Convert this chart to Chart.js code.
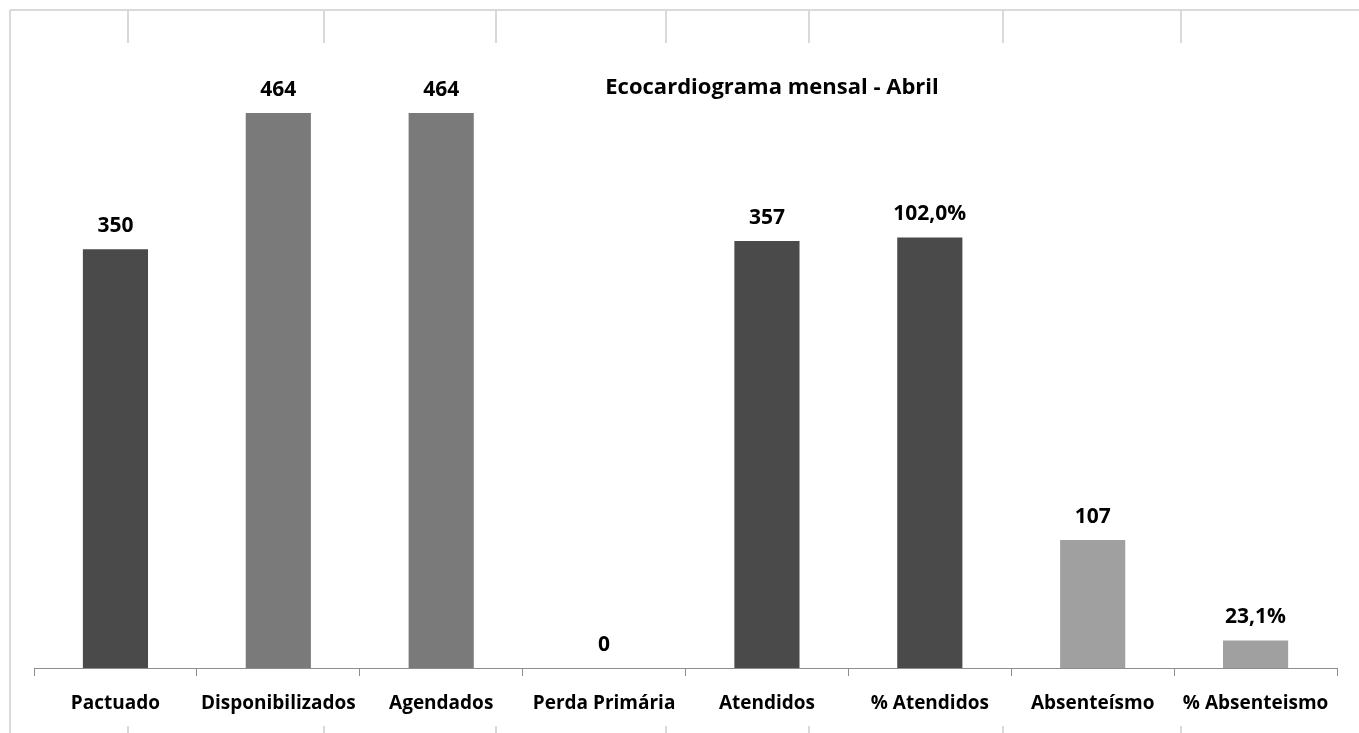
<!DOCTYPE html>
<html>
<head>
<meta charset="utf-8">
<script src="https://cdn.jsdelivr.net/npm/chart.js@4.4.0/dist/chart.umd.min.js"></script>
<style>
    html, body { margin: 0; padding: 0; background: #fff; }
    #wrap { position: relative; width: 1359px; height: 733px; }
</style>
</head>
<body>
<div id="wrap"><canvas id="chart"></canvas></div>
<script>
const categories = ['Pactuado', 'Disponibilizados', 'Agendados', 'Perda Primária', 'Atendidos', '% Atendidos', 'Absenteísmo', '% Absenteismo'];
const barValues = [350, 464, 464, 0, 357, 360, 107, 23];
const valueLabels = ['350', '464', '464', '0', '357', '102,0%', '107', '23,1%'];
const chartTitle = 'Ecocardiograma mensal - Abril';

const DARK = '#4a4a4a';
const MID = '#7a7a7a';
const LIGHT = '#a0a0a0';
const barColors = [DARK, MID, MID, DARK, DARK, DARK, LIGHT, LIGHT];

const FONT = '"Open Sans", sans-serif';

// light sheet borders behind the chart frame
const sheetLines = {
    id: 'sheetLines',
    beforeDraw(chart) {
        const ctx = chart.ctx;
        ctx.save();
        ctx.strokeStyle = '#d9d9d9';
        ctx.lineWidth = 2;
        ctx.beginPath();
        ctx.moveTo(10, 10);
        ctx.lineTo(1359, 10);
        ctx.moveTo(10, 10);
        ctx.lineTo(10, 733);
        [128, 324, 496, 666, 809, 1003, 1181].forEach(x => {
            ctx.moveTo(x, 10);
            ctx.lineTo(x, 43);
            ctx.moveTo(x, 726);
            ctx.lineTo(x, 733);
        });
        ctx.stroke();
        ctx.restore();
    }
};

const barLabels = {
    id: 'barLabels',
    afterDatasetsDraw(chart) {
        const ctx = chart.ctx;
        const meta = chart.getDatasetMeta(0);
        ctx.save();
        ctx.fillStyle = '#000';
        ctx.font = 'bold 21px ' + FONT;
        ctx.textAlign = 'center';
        ctx.textBaseline = 'middle';
        meta.data.forEach((bar, i) => {
            ctx.fillText(valueLabels[i], bar.x, bar.y - 23);
        });
        ctx.font = 'bold 22px ' + FONT;
        ctx.fillText(chartTitle, 772, 88);
        ctx.restore();
    }
};

new Chart(document.getElementById('chart'), {
    type: 'bar',
    data: {
        labels: categories,
        datasets: [{
            data: barValues,
            backgroundColor: barColors,
            categoryPercentage: 1,
            barPercentage: 0.4
        }]
    },
    options: {
        responsive: true,
        maintainAspectRatio: false,
        animation: false,
        layout: { padding: { left: 34, right: 22, top: 46, bottom: 0 } },
        plugins: {
            legend: { display: false },
            tooltip: { enabled: false }
        },
        scales: {
            x: {
                offset: true,
                grid: {
                    offset: true,
                    drawOnChartArea: false,
                    drawTicks: true,
                    tickLength: 8,
                    color: '#8e8e8e'
                },
                border: { display: true, color: '#8e8e8e', width: 1 },
                ticks: {
                    color: '#000',
                    padding: 16,
                    maxRotation: 0,
                    autoSkip: false,
                    font: { family: FONT, size: 19, weight: 'bold' }
                },
                afterFit(scale) {
                    scale.height = 65;
                }
            },
            y: {
                display: false,
                min: 0,
                max: 520
            }
        }
    },
    plugins: [sheetLines, barLabels]
});
</script>
</body>
</html>
